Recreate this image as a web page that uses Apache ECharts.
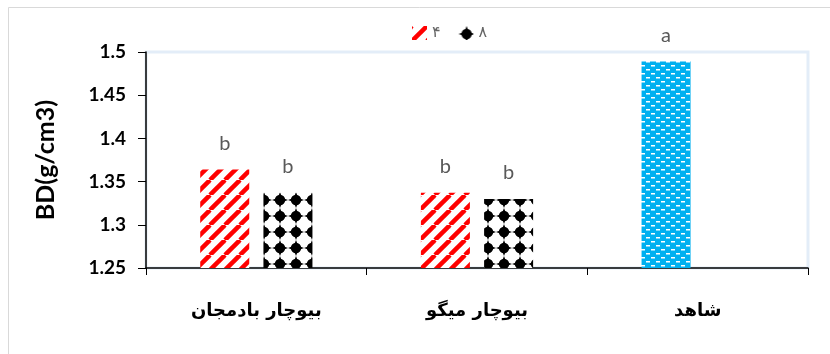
<!DOCTYPE html>
<html>
<head>
<meta charset="utf-8">
<script src="https://cdn.jsdelivr.net/npm/echarts@6/dist/echarts.min.js"></script>
<style>
  html, body { margin: 0; padding: 0; background: #fff; }
  #chart { width: 830px; height: 354px; }
</style>
</head>
<body>
<div id="chart"></div>
<script>
const categories = ['بیوچار بادمجان', 'بیوچار میگو', 'شاهد'];
const seriesNames = ['۴', '۸'];
const values4 = [1.364, 1.337, 1.489];
const values8 = [1.337, 1.330, null];
const labels4 = ['b', 'b', 'a'];
const labels8 = ['b', 'b', ''];

// hatch fills like the Excel patterns
const makeTile = (w, h, draw) => {
    const c = document.createElement('canvas');
    c.width = w;
    c.height = h;
    draw(c.getContext('2d'), w, h);
    return { image: c, repeat: 'repeat' };
};

const redStripes = makeTile(15, 15, (ctx, w, h) => {
    ctx.fillStyle = '#fff';
    ctx.fillRect(0, 0, w, h);
    ctx.strokeStyle = '#ff0000';
    ctx.lineWidth = 4.5;
    for (let k = -1; k <= 1; k++) {
        ctx.beginPath();
        ctx.moveTo(k * w, h);
        ctx.lineTo(k * w + w, 0);
        ctx.stroke();
    }
});

const blackDiamonds = makeTile(16, 16, (ctx, w, h) => {
    ctx.fillStyle = '#fff';
    ctx.fillRect(0, 0, w, h);
    ctx.fillStyle = '#000';
    // pointed blob: round body with four tips
    ctx.beginPath();
    ctx.arc(8, 8, 5.2, 0, Math.PI * 2);
    ctx.fill();
    ctx.beginPath();
    ctx.moveTo(8, 0);
    ctx.lineTo(11, 8);
    ctx.lineTo(8, 16);
    ctx.lineTo(5, 8);
    ctx.closePath();
    ctx.fill();
    ctx.beginPath();
    ctx.moveTo(0, 8);
    ctx.lineTo(8, 5);
    ctx.lineTo(16, 8);
    ctx.lineTo(8, 11);
    ctx.closePath();
    ctx.fill();
});

const blueDashes = makeTile(10, 8, (ctx, w, h) => {
    ctx.fillStyle = '#00b0f0';
    ctx.fillRect(0, 0, w, h);
    ctx.fillStyle = '#fff';
    ctx.fillRect(1, 1, 4, 1.5);
    ctx.fillRect(6, 5, 4, 1.5);
});

const labelStyle = (arr) => ({
    show: true,
    position: 'top',
    distance: 16,
    fontFamily: 'Lato',
    fontSize: 20,
    color: '#595959',
    formatter: (p) => arr[p.dataIndex]
});

const chart = echarts.init(document.getElementById('chart'));
chart.setOption({
    animation: false,
    backgroundColor: '#fff',
    graphic: [
        {
            type: 'rect',
            shape: { x: 8.5, y: 7.5, width: 840, height: 400 },
            style: { fill: 'none', stroke: '#d9d9d9', lineWidth: 1 },
            silent: true,
            z: -10
        }
    ],
    legend: {
        left: 407,
        top: 20,
        itemWidth: 15,
        itemHeight: 14,
        itemGap: 18,
        icon: 'rect',
        textStyle: { fontFamily: 'DejaVu Sans', fontSize: 16, color: '#666' },
        data: seriesNames
    },
    grid: {
        left: 146,
        right: 22,
        top: 52,
        bottom: 86,
        show: true,
        borderColor: '#e3edf8',
        borderWidth: 3
    },
    xAxis: {
        type: 'category',
        data: categories,
        axisLine: { lineStyle: { color: '#000', width: 1.5 } },
        axisTick: { show: true, length: 7, lineStyle: { color: '#000' } },
        axisLabel: {
            margin: 34,
            fontFamily: 'DejaVu Sans',
            fontWeight: 'bold',
            fontSize: 18,
            color: '#000'
        }
    },
    yAxis: {
        type: 'value',
        min: 1.25,
        max: 1.5,
        interval: 0.05,
        name: 'BD(g/cm3)',
        nameLocation: 'middle',
        nameGap: 88,
        nameTextStyle: { fontFamily: 'Lato', fontWeight: 'bold', fontSize: 25, color: '#000' },
        axisLine: { show: true, lineStyle: { color: '#000', width: 1.5 } },
        axisTick: { show: true, length: 8, lineStyle: { color: '#000' } },
        axisLabel: {
            margin: 20,
            fontFamily: 'Lato',
            fontWeight: 'bold',
            fontSize: 19,
            color: '#000'
        },
        splitLine: { show: false }
    },
    series: [
        {
            name: seriesNames[0],
            type: 'bar',
            barWidth: 49,
            barGap: '29%',
            itemStyle: { color: redStripes },
            label: labelStyle(labels4),
            data: values4.map((v, i) => i === 2 ? { value: v, itemStyle: { color: blueDashes } } : v)
        },
        {
            name: seriesNames[1],
            type: 'bar',
            barWidth: 49,
            itemStyle: { color: blackDiamonds },
            label: labelStyle(labels8),
            data: values8.map((v) => v === null ? '-' : v)
        }
    ]
});
</script>
</body>
</html>
